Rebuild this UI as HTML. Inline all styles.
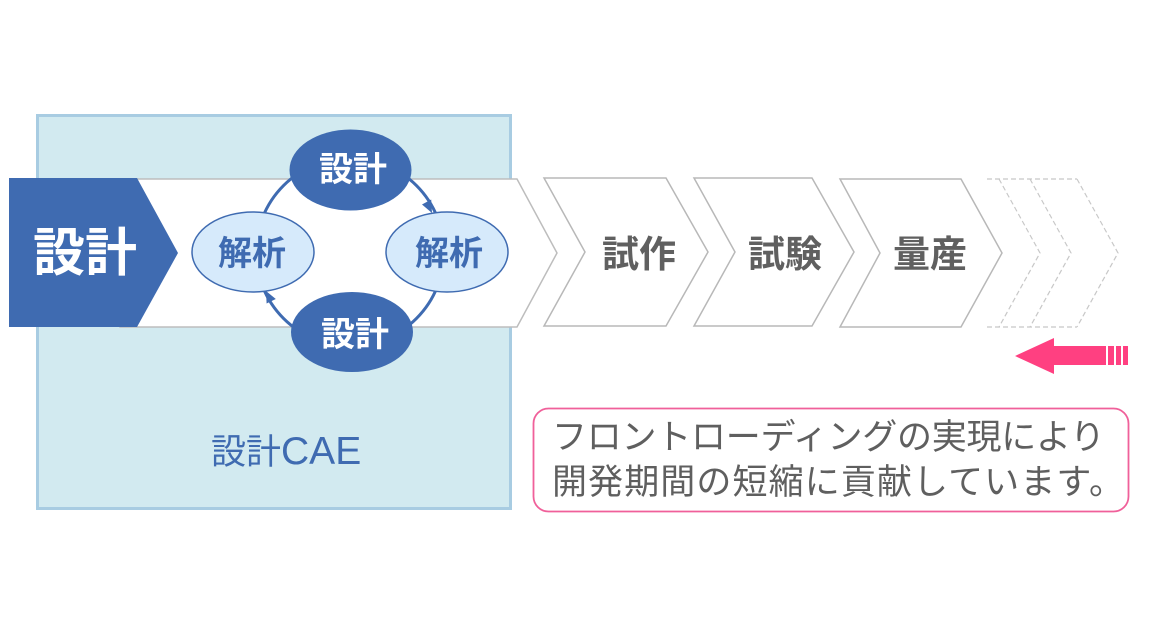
<!DOCTYPE html>
<html><head><meta charset="utf-8"><style>
html,body{margin:0;padding:0;background:#fff;}
svg{display:block;}
text{font-family:"Liberation Sans","Noto Sans CJK JP",sans-serif;}
</style></head><body>
<svg width="1162" height="623" viewBox="0 0 1162 623" xmlns="http://www.w3.org/2000/svg">
<rect x="0" y="0" width="1162" height="623" fill="#ffffff"/>
<!-- light blue CAE box -->
<rect x="37.5" y="115.5" width="473" height="393" fill="#d2eaf0" stroke="#a8cce2" stroke-width="3"/>
<!-- white band -->
<polygon points="120,179 517,179 557,253 517,327 120,327" fill="#ffffff" stroke="#bdbdbd" stroke-width="1.5"/>
<!-- dark pentagon -->
<polygon points="9,178 137,178 178,253 137,327 9,327" fill="#3f6bb1"/>
<text x="85" y="271" font-size="52" font-weight="bold" fill="#ffffff" text-anchor="middle">設計</text>
<!-- chevrons -->
<polygon points="544,178 666,178 708,252 666,326 544,326 585,252" fill="#ffffff" stroke="#b8b8b8" stroke-width="1.5"/>
<polygon points="694,178 812,178 854,252 812,326 694,326 735,252" fill="#ffffff" stroke="#b8b8b8" stroke-width="1.5"/>
<polygon points="840,179 961,179 1002,253 961,327 840,327 880,253" fill="#ffffff" stroke="#b8b8b8" stroke-width="1.5"/>
<text x="639" y="267" font-size="37" font-weight="bold" fill="#606060" text-anchor="middle">試作</text>
<text x="785" y="267" font-size="37" font-weight="bold" fill="#606060" text-anchor="middle">試験</text>
<text x="930" y="267" font-size="37" font-weight="bold" fill="#606060" text-anchor="middle">量産</text>
<!-- dashed chevrons -->
<g fill="none" stroke="#c8c8c8" stroke-width="1.2" stroke-dasharray="5,3">
<line x1="987" y1="179" x2="1077" y2="179"/>
<line x1="987" y1="327" x2="1077" y2="327"/>
<polyline points="999,179 1040,253 999,327"/>
<polyline points="1030,179 1071,253 1030,327"/>
<polyline points="1077,179 1118,253 1077,327"/>
</g>
<!-- pink arrow -->
<polygon points="1015,356 1054,338 1054,346 1106,346 1106,365 1054,365 1054,374" fill="#ff4081"/>
<rect x="1108" y="346" width="6" height="19" fill="#ff4081"/>
<rect x="1116" y="346" width="5" height="19" fill="#ff4081"/>
<rect x="1123" y="346" width="5" height="19" fill="#ff4081"/>
<!-- cycle circle -->
<circle cx="350" cy="252" r="94" fill="none" stroke="#3f6bb1" stroke-width="3"/>
<polygon points="432,213 431.2,199.5 422,204.5" fill="#3f6bb1"/>
<polygon points="266,291 275.8,299 266.6,303.5" fill="#3f6bb1"/>
<!-- ellipses -->
<ellipse cx="350.5" cy="170" rx="61" ry="40.5" fill="#3f6bb1"/>
<ellipse cx="352" cy="332" rx="61" ry="40" fill="#3f6bb1"/>
<ellipse cx="253" cy="252" rx="61" ry="40" fill="#d6eafb" stroke="#3f6bb1" stroke-width="1.5"/>
<ellipse cx="447" cy="252" rx="61" ry="40" fill="#d6eafb" stroke="#3f6bb1" stroke-width="1.5"/>
<text x="353" y="181" font-size="34" font-weight="bold" fill="#ffffff" text-anchor="middle">設計</text>
<text x="355" y="346" font-size="34" font-weight="bold" fill="#ffffff" text-anchor="middle">設計</text>
<text x="252" y="265" font-size="34" font-weight="bold" fill="#3f6bb1" text-anchor="middle">解析</text>
<text x="449" y="265" font-size="34" font-weight="bold" fill="#3f6bb1" text-anchor="middle">解析</text>
<!-- CAE label -->
<text x="211" y="464" fill="#3f6bb1"><tspan font-size="35">設計</tspan><tspan font-size="39">CAE</tspan></text>
<!-- message box -->
<rect x="533.5" y="408.5" width="595" height="103" rx="15" ry="15" fill="#ffffff" stroke="#f0609a" stroke-width="1.8"/>
<text x="552" y="449" font-size="35" fill="#5f5f5f" textLength="553" lengthAdjust="spacing">フロントローディングの実現により</text>
<text x="552" y="494" font-size="35" fill="#5f5f5f" textLength="572" lengthAdjust="spacing">開発期間の短縮に貢献しています。</text>
</svg>
</body></html>
